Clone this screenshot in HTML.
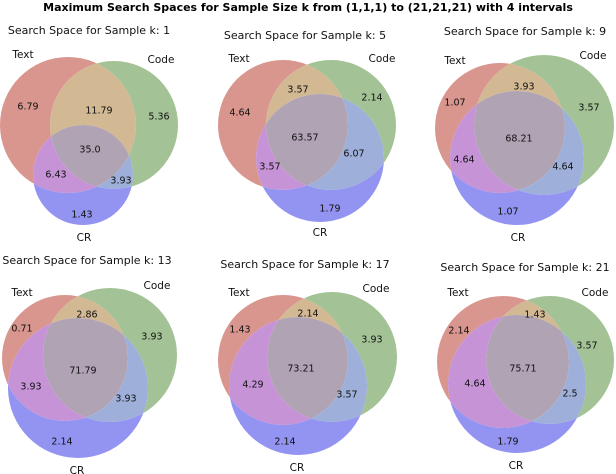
<!DOCTYPE html>
<html><head><meta charset="utf-8"><style>
html,body{margin:0;padding:0;background:#fff;width:616px;height:474px;overflow:hidden}
svg{display:block;font-family:"DejaVu Sans","Liberation Sans",sans-serif}
</style></head><body>
<svg id="fig" width="616" height="474" viewBox="0 0 616 474" xmlns="http://www.w3.org/2000/svg">
<text x="308" y="11" text-anchor="middle" font-size="11" font-weight="bold">Maximum Search Spaces for Sample Size k from (1,1,1) to (21,21,21) with 4 intervals</text>
</svg>
<script>
const ks = [1,5,9,13,17,21];
// region values: Text only, Text&Code, Code only, all, Text&CR, Code&CR, CR only
const textOnly = ["6.79","4.64","1.07","0.71","1.43","2.14"];
const textCode = ["11.79","3.57","3.93","2.86","2.14","1.43"];
const codeOnly = ["5.36","2.14","3.57","3.93","3.93","3.57"];
const allThree = ["35.0","63.57","68.21","71.79","73.21","75.71"];
const textCR = ["6.43","3.57","4.64","3.93","4.29","4.64"];
const codeCR = ["3.93","6.07","4.64","3.93","3.57","2.5"];
const crOnly = ["1.43","1.79","1.07","2.14","2.14","1.79"];

// layout (pixel geometry)
const circles = [
 [[68,125,68],[114,125,64],[83,175,50]],
 [[283,125,65],[331,125,65],[320,158,64]],
 [[500,128,65],[544,125,70],[517,158,67]],
 [[65,358,63],[110,355,67],[78,388,70]],
 [[283,360,65],[332,357,65],[298,386,69]],
 [[503,362,66],[550,360,64],[517,384,69]]
];
const valPos = [
 [[28,106],[99,110],[159,116],[90,149],[56,174],[121,180],[82,214]],
 [[240,112],[298,89],[372,97],[305,137],[270,166],[354,153],[330,208]],
 [[455,102],[524,86],[589,107],[519,138],[464,159],[563,166],[508,211]],
 [[22,328],[87,314],[152,336],[83,370],[31,386],[126,398],[62,441]],
 [[240,329],[308,313],[372,339],[301,368],[253,384],[347,394],[285,441]],
 [[459,330],[535,314],[587,345],[523,368],[475,383],[570,393],[508,441]]
];
const setLabPos = [
 [[23,54],[161,59],[84,237]],
 [[239,58],[382,58],[320,232]],
 [[455,60],[593,55],[518,237]],
 [[22,292],[157,285],[77,470]],
 [[239,292],[376,288],[297,467]],
 [[458,292],[595,292],[516,465]]
];
const titlePos = [[89,30],[305,35],[525,31],[87,260],[305,264],[525,267]];
const setNames = ["Text","Code","CR"];
const regions = [
 [1,0,0,"#d9968e"],[1,1,0,"#d2b893"],[0,1,0,"#a3c295"],[1,1,1,"#b0a3b4"],
 [1,0,1,"#c693d6"],[0,1,1,"#9eb0da"],[0,0,1,"#9393f2"]
];
const NS="http://www.w3.org/2000/svg";
const svg=document.getElementById('fig');
const defs=document.createElementNS(NS,'defs');svg.appendChild(defs);
function mk(t,a){const e=document.createElementNS(NS,t);for(const k in a)e.setAttribute(k,a[k]);return e;}
ks.forEach((k,p)=>{
  const g=mk('g',{});
  
  
  svg.appendChild(g);
  const vals=[textOnly[p],textCode[p],codeOnly[p],allThree[p],textCR[p],codeCR[p],crOnly[p]];
  regions.forEach((r,ri)=>{
    const mid='m'+p+'_'+ri;
    const mask=mk('mask',{id:mid,maskUnits:'userSpaceOnUse',x:0,y:0,width:616,height:474});
    mask.appendChild(mk('rect',{x:0,y:0,width:616,height:474,fill:'#000'}));
    const inc=[0,1,2].filter(i=>r[i]);
    let parent=mask;
    inc.forEach((ci,j)=>{
      const cid='c'+p+'_'+ri+'_'+j;
      const cp=mk('clipPath',{id:cid});
      const c=circles[p][ci];
      cp.appendChild(mk('circle',{cx:c[0],cy:c[1],r:c[2]}));
      defs.appendChild(cp);
      const gg=mk('g',{'clip-path':'url(#'+cid+')'});
      parent.appendChild(gg);parent=gg;
    });
    parent.appendChild(mk('rect',{x:0,y:0,width:616,height:474,fill:'#fff'}));
    [0,1,2].filter(i=>!r[i]).forEach(ci=>{
      const c=circles[p][ci];
      mask.appendChild(mk('circle',{cx:c[0],cy:c[1],r:c[2],fill:'#000'}));
    });
    defs.appendChild(mask);
    const rect=mk('rect',{x:0,y:0,width:616,height:474,fill:r[3],mask:'url(#'+mid+')'});
    
    
    g.appendChild(rect);
  });
  vals.forEach((v,i)=>{
    const t=mk('text',{x:valPos[p][i][0],y:valPos[p][i][1]+3.5,'text-anchor':'middle','font-size':'9.5',fill:'#111'});
    
    
    t.textContent=v;g.appendChild(t);
  });
  setNames.forEach((n,i)=>{
    const t=mk('text',{x:setLabPos[p][i][0],y:setLabPos[p][i][1]+4,'text-anchor':'middle','font-size':'10.5',fill:'#111'});
    
    
    t.textContent=n;g.appendChild(t);
  });
  const tt=mk('text',{x:titlePos[p][0],y:titlePos[p][1]+4,'text-anchor':'middle','font-size':'11',fill:'#111'});
  
  
  tt.textContent='Search Space for Sample k: '+k;g.appendChild(tt);
});
</script>
</body></html>
